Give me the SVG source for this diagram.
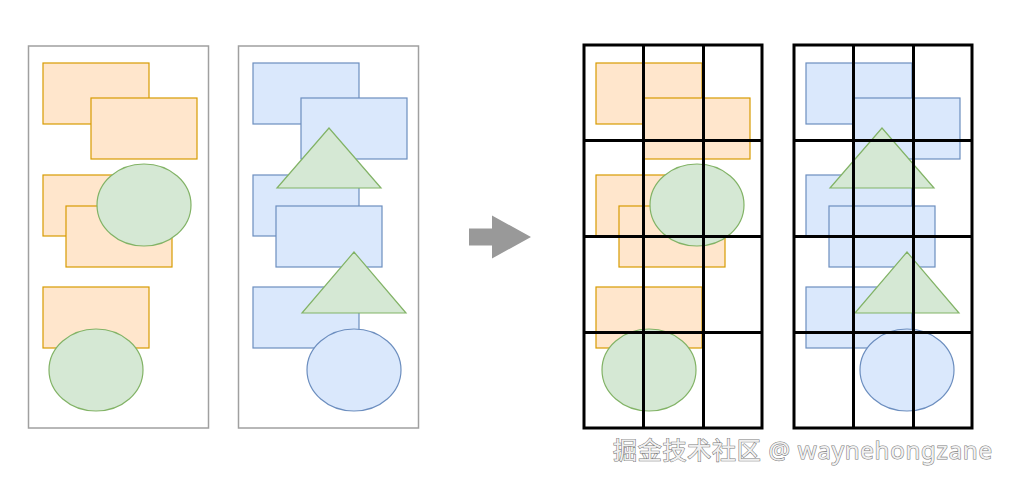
<svg xmlns="http://www.w3.org/2000/svg" width="1011" height="481" viewBox="0 0 1011 481">
<style>
.panel{fill:#fff;stroke:#a0a0a0;stroke-width:1.5}
.o{fill:#ffe6cc;stroke:#d79b00;stroke-width:1.2}
.b{fill:#dae8fc;stroke:#6c8ebf;stroke-width:1.2}
.g{fill:#d5e8d4;stroke:#82b366;stroke-width:1.2}
.grid{fill:none;stroke:#000;stroke-width:3}
.wm{font-family:"Noto Sans","Noto Sans CJK SC",sans-serif;font-size:24px;fill:#f0f0f0;stroke:#7a7a7a;stroke-width:1.1;paint-order:stroke}
</style>
<defs>
<g id="setA">
<rect class="o" x="43" y="63" width="106" height="61"/>
<rect class="o" x="91" y="98" width="106" height="61"/>
<rect class="o" x="43" y="175" width="106" height="61"/>
<rect class="o" x="66" y="206" width="106" height="61"/>
<ellipse class="g" cx="144" cy="205" rx="47" ry="41"/>
<rect class="o" x="43" y="287" width="106" height="61"/>
<ellipse class="g" cx="96" cy="370" rx="47" ry="41"/>
</g>
<g id="setB">
<rect class="b" x="253" y="63" width="106" height="61"/>
<rect class="b" x="301" y="98" width="106" height="61"/>
<rect class="b" x="253" y="175" width="106" height="61"/>
<polygon class="g" points="329,128 277,188 381,188"/>
<rect class="b" x="276" y="206" width="106" height="61"/>
<rect class="b" x="253" y="287" width="106" height="61"/>
<polygon class="g" points="354,252 302,313 406,313"/>
<ellipse class="b" cx="354" cy="370" rx="47" ry="41"/>
</g>
<g id="gridShape">
<rect class="grid" x="0" y="0" width="178" height="383"/>
<line class="grid" x1="59.5" y1="0" x2="59.5" y2="383"/>
<line class="grid" x1="119.5" y1="0" x2="119.5" y2="383"/>
<line class="grid" x1="0" y1="95.5" x2="178" y2="95.5"/>
<line class="grid" x1="0" y1="191.5" x2="178" y2="191.5"/>
<line class="grid" x1="0" y1="287.5" x2="178" y2="287.5"/>
</g>
</defs>
<g id="panel-left-1">
<rect class="panel" x="28.5" y="46" width="180" height="382"/>
<use href="#setA"/>
</g>
<g id="panel-left-2">
<rect class="panel" x="238.5" y="46" width="180" height="382"/>
<use href="#setB"/>
</g>
<g id="connectors">
<polygon fill="#999" points="469,228.5 492,228.5 492,215.5 531,237 492,258.5 492,245.5 469,245.5"/>
</g>
<g id="panel-right-1">
<use href="#setA" transform="translate(553,0)"/>
<use href="#gridShape" transform="translate(584,45)"/>
</g>
<g id="panel-right-2">
<use href="#setB" transform="translate(553,0)"/>
<use href="#gridShape" transform="translate(794,45)"/>
</g>
<text class="wm" x="613" y="459" textLength="379" lengthAdjust="spacing">掘金技术社区 @ waynehongzane</text>
</svg>
